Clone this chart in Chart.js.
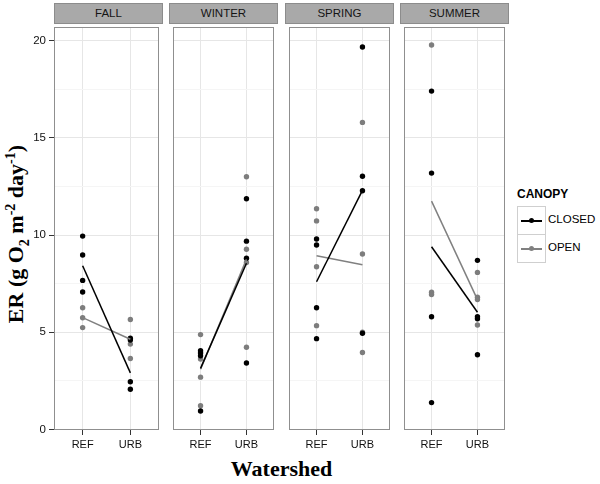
<!DOCTYPE html>
<html>
<head>
<meta charset="utf-8">
<script src="https://cdn.jsdelivr.net/npm/chart.js@4.4.1/dist/chart.umd.min.js"></script>
<style>
  body { margin: 0; background: #fff; font-family: 'Liberation Sans', Arial, sans-serif; }
  #wrap { position: relative; width: 600px; height: 484px; overflow: hidden; background: #fff; }
  canvas { position: absolute; top: 23px; }
  .strip { position: absolute; top: 3px; height: 21px; width: 109px; box-sizing: border-box;
           background: #a9a9a9; border: 1px solid #8c8c8c; font-size: 11.5px; color: #151515;
           text-align: center; line-height: 19px; }
  #ytitle { position: absolute; left: 18px; top: 234px; transform: translate(-50%, -50%) rotate(-90deg);
            white-space: nowrap; font: bold 22px 'Liberation Serif', 'Times New Roman', serif; color: #000; }
  #ytitle sub, #ytitle sup { font-size: 14px; }
  #xtitle { position: absolute; left: 54px; width: 455px; top: 456px; text-align: center;
            font: bold 22px 'Liberation Serif', 'Times New Roman', serif; color: #000; }
  #legTitle { position: absolute; left: 517px; top: 187px; font-weight: bold; font-size: 12px; color: #000; }
  .key { position: absolute; left: 517px; width: 29px; height: 29px; box-sizing: border-box; border: 1px solid #cfcfcf; background: #fff; }
  .kline { position: absolute; left: 3px; width: 21px; top: 13px; height: 1.6px; }
  .kdot { position: absolute; left: 11px; top: 11px; width: 5px; height: 5px; border-radius: 50%; }
  .klab { position: absolute; left: 548px; font-size: 11.5px; color: #000; }
</style>
</head>
<body>
<div id="wrap">
  <div id="ytitle">ER (g O<sub>2</sub> m<sup>-2</sup> day<sup>-1</sup>)</div>
  <div id="xtitle">Watershed</div>
  <div id="legTitle">CANOPY</div>
  <div class="key" style="top:206px"><div class="kline" style="background:#000"></div><div class="kdot" style="background:#000"></div></div>
  <div class="key" style="top:234px"><div class="kline" style="background:#808080"></div><div class="kdot" style="background:#808080"></div></div>
  <div class="klab" style="top:213px">CLOSED</div>
  <div class="klab" style="top:241px">OPEN</div>
</div>
<script>
// facets and x categories
const seasons = ['FALL', 'WINTER', 'SPRING', 'SUMMER'];
const watersheds = ['REF', 'URB'];

// single observations, one list per season
const closedRef = [[9.95, 8.98, 7.67, 7.07], [4.05, 3.93, 3.79, 0.95], [9.8, 9.49, 6.26, 4.67], [17.41, 13.19, 5.8, 1.38]];
const closedUrb = [[4.69, 4.6, 2.45, 2.07], [11.87, 9.69, 8.81, 3.42], [19.68, 13.03, 12.28, 4.95], [8.7, 5.8, 5.69, 3.84]];
const openRef = [[6.26, 5.75, 5.24], [4.88, 3.62, 2.69, 1.22], [11.36, 10.73, 8.37, 5.34], [19.78, 7.06, 6.94]];
const openUrb = [[5.66, 4.39, 3.65], [13.0, 9.27, 8.59, 4.23], [15.8, 9.03, 5.0, 3.96], [8.08, 6.8, 6.68, 5.37]];

// mean lines (REF, URB) per season
const closedMean = [[8.42, 2.91], [3.14, 8.55], [7.6, 12.3], [9.4, 6.03]];
const openMean = [[5.75, 4.64], [3.1, 8.75], [8.94, 8.47], [11.75, 6.68]];

const yMajorTicks = [0, 5, 10, 15, 20];
const yMinorTicks = [2.5, 7.5, 12.5, 17.5];

const panelLefts = [54, 169, 285, 400];
const panelWidth = 109;

const wrap = document.getElementById('wrap');

function pts(refVals, urbVals) {
  return refVals.map(v => ({ x: 1, y: v })).concat(urbVals.map(v => ({ x: 2, y: v })));
}

const panelBorder = {
  id: 'panelBorder',
  afterDatasetsDraw(chart) {
    const a = chart.chartArea, c = chart.ctx;
    c.save();
    c.strokeStyle = '#8f8f8f';
    c.lineWidth = 1;
    c.strokeRect(Math.round(a.left) + 0.5, Math.round(a.top) + 0.5, Math.round(a.width) - 1, Math.round(a.height) - 1);
    c.restore();
  }
};

const isMajor = v => yMajorTicks.includes(v);

seasons.forEach((season, i) => {
  const first = i === 0;
  const strip = document.createElement('div');
  strip.className = 'strip';
  strip.style.left = panelLefts[i] + 'px';
  strip.textContent = season;
  wrap.appendChild(strip);

  const canvas = document.createElement('canvas');
  const left = first ? 0 : panelLefts[i];
  const width = first ? panelLefts[i] + panelWidth : panelWidth;
  canvas.width = width;
  canvas.height = 432;
  canvas.style.left = left + 'px';
  canvas.style.width = width + 'px';
  canvas.style.height = '432px';
  wrap.appendChild(canvas);

  new Chart(canvas.getContext('2d'), {
    type: 'scatter',
    data: {
      datasets: [
        {
          label: 'OPEN',
          data: pts(openRef[i], openUrb[i]),
          backgroundColor: '#7d7d7d',
          borderWidth: 0,
          pointRadius: 2.7,
          order: 3
        },
        {
          label: 'CLOSED',
          data: pts(closedRef[i], closedUrb[i]),
          backgroundColor: '#000',
          borderWidth: 0,
          pointRadius: 2.7,
          order: 2
        },
        {
          label: 'OPEN mean',
          data: [{ x: 1, y: openMean[i][0] }, { x: 2, y: openMean[i][1] }],
          showLine: true,
          borderColor: '#808080',
          borderWidth: 1.5,
          pointRadius: 0,
          order: 1
        },
        {
          label: 'CLOSED mean',
          data: [{ x: 1, y: closedMean[i][0] }, { x: 2, y: closedMean[i][1] }],
          showLine: true,
          borderColor: '#000',
          borderWidth: 1.5,
          pointRadius: 0,
          order: 0
        }
      ]
    },
    options: {
      responsive: false,
      animation: false,
      layout: { padding: 0 },
      plugins: { legend: { display: false }, tooltip: { enabled: false } },
      scales: {
        x: {
          type: 'linear',
          min: 0.4,
          max: 2.6,
          afterBuildTicks: s => { s.ticks = watersheds.map((w, k) => ({ value: k + 1 })); },
          afterFit: s => { s.height = 25; s.paddingLeft = 0; s.paddingRight = 0; },
          border: { display: false },
          grid: { color: '#e6e6e6', tickColor: '#333', tickLength: 5 },
          ticks: {
            padding: 3, color: '#111', font: { size: 11 }, maxRotation: 0, autoSkip: false,
            callback: v => watersheds[v - 1]
          }
        },
        y: {
          min: -0.03,
          max: 20.71,
          afterBuildTicks: s => {
            s.ticks = yMinorTicks.concat(yMajorTicks).sort((a, b) => a - b).map(v => ({ value: v }));
          },
          afterFit: s => { s.width = first ? panelLefts[0] : 0; s.paddingTop = 0; s.paddingBottom = 0; },
          border: { display: false },
          grid: {
            color: c => isMajor(c.tick.value) ? '#e6e6e6' : '#f5f5f5',
            tickColor: c => isMajor(c.tick.value) ? '#333' : 'rgba(0,0,0,0)',
            tickLength: 5,
            drawTicks: first
          },
          ticks: {
            display: first, autoSkip: false, padding: 3, color: '#111', font: { size: 11.5 },
            callback: v => isMajor(v) ? String(v) : ''
          }
        }
      }
    },
    plugins: [panelBorder]
  });
});
</script>
</body>
</html>
